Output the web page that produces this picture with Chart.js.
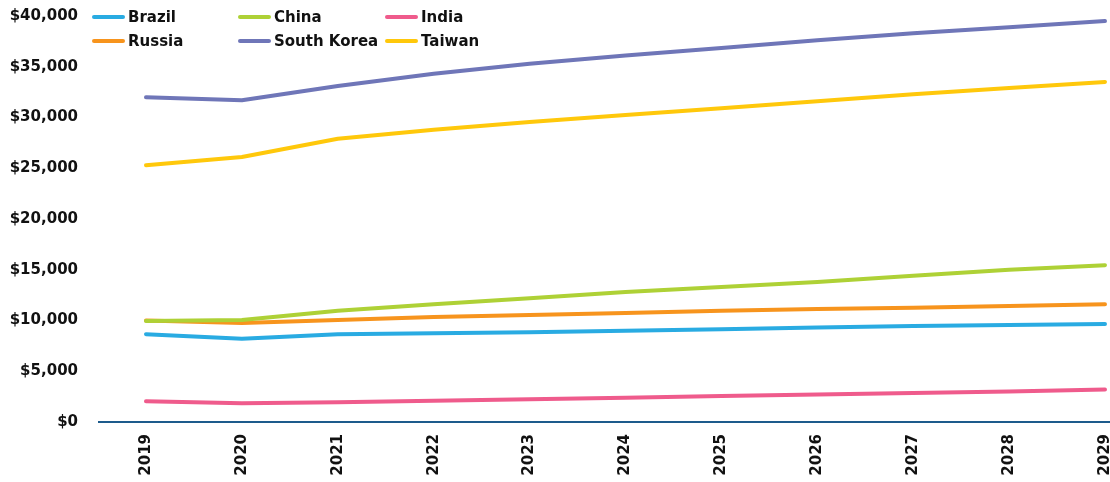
<!DOCTYPE html>
<html>
<head>
<meta charset="utf-8">
<script src="https://cdn.jsdelivr.net/npm/chart.js@4"></script>
<style>
  html, body { margin: 0; padding: 0; background: #fff; }
  #wrap { position: relative; width: 1110px; height: 482px; overflow: hidden; }
  #legend { position: absolute; left: 92px; top: 8px; font: bold 15px "DejaVu Sans", sans-serif; color: #111; }
  .item { position: absolute; white-space: nowrap; display: flex; align-items: center; }
  .swatch { width: 33px; height: 4px; border-radius: 2px; margin-right: 3px; }
</style>
</head>
<body>
<div id="wrap">
  <canvas id="chart" width="1135" height="482"></canvas>
  <div id="legend"></div>
</div>
<script>
// years on the x axis
const years = [2019, 2020, 2021, 2022, 2023, 2024, 2025, 2026, 2027, 2028, 2029];

// GDP per capita, US$
const brazil     = [8650, 8200, 8650, 8750, 8850, 9000, 9150, 9300, 9450, 9550, 9650];
const china      = [9950, 10050, 10950, 11600, 12200, 12800, 13300, 13800, 14400, 15000, 15450];
const india      = [2050, 1850, 1950, 2100, 2250, 2400, 2550, 2700, 2850, 3000, 3200];
const russia     = [10000, 9750, 10050, 10350, 10550, 10750, 10950, 11130, 11250, 11430, 11600];
const southKorea = [32000, 31700, 33100, 34300, 35300, 36100, 36850, 37600, 38300, 38900, 39500];
const taiwan     = [25300, 26100, 27900, 28800, 29550, 30250, 30900, 31600, 32300, 32900, 33500];

const seriesNames = ['Brazil', 'China', 'India', 'Russia', 'South Korea', 'Taiwan'];
const seriesData = [brazil, china, india, russia, southKorea, taiwan];
const colors = ['#29abe2', '#aed136', '#ef5b8c', '#f7941d', '#6f76b8', '#ffc80b'];

const yTicks = [0, 5000, 10000, 15000, 20000, 25000, 30000, 35000, 40000];

const font = { family: '"DejaVu Sans", sans-serif', size: 15, weight: 'bold' };

const datasets = seriesNames.map((name, i) => ({
  label: name,
  data: years.map((yr, j) => ({ x: yr, y: seriesData[i][j] })),
  borderColor: colors[i],
  backgroundColor: colors[i],
  borderWidth: 4,
  borderCapStyle: 'round',
  borderJoinStyle: 'round',
  pointRadius: 0,
  tension: 0
}));

new Chart(document.getElementById('chart'), {
  type: 'line',
  data: { datasets },
  options: {
    responsive: false,
    animation: false,
    layout: { padding: { top: 16, right: 0, left: 0, bottom: 0 } },
    plugins: { legend: { display: false }, tooltip: { enabled: false } },
    scales: {
      x: {
        type: 'linear',
        min: 2018.51,
        max: 2029.06,
        afterBuildTicks: s => { s.ticks = years.map(v => ({ value: v })); },
        afterFit: s => { s.height = 60; },
        grid: { display: false, drawTicks: false },
        border: { display: true, color: '#1d5b8c', width: 2 },
        ticks: {
          font, color: '#111', padding: 12,
          minRotation: 90, maxRotation: 90,
          autoSkip: false,
          callback: v => String(v)
        }
      },
      y: {
        min: 0,
        max: 40000,
        afterBuildTicks: s => { s.ticks = yTicks.map(v => ({ value: v })); },
        afterFit: s => { s.width = 99; },
        // invisible tick marks keep the labels clear of the plot
        grid: { display: false, drawTicks: true, tickLength: 21, tickColor: 'rgba(0,0,0,0)' },
        border: { display: false },
        ticks: {
          font, color: '#111', padding: 0,
          callback: v => '$' + v.toLocaleString('en-US')
        }
      }
    }
  }
});

// legend: three columns, two rows
const legend = document.getElementById('legend');
const colX = [0, 146, 293];
seriesNames.forEach((name, i) => {
  const el = document.createElement('div');
  el.className = 'item';
  el.style.left = colX[i % 3] + 'px';
  el.style.top = (Math.floor(i / 3) * 24) + 'px';
  el.innerHTML = '<span class="swatch" style="background:' + colors[i] + '"></span>' + name;
  legend.appendChild(el);
});
</script>
</body>
</html>
